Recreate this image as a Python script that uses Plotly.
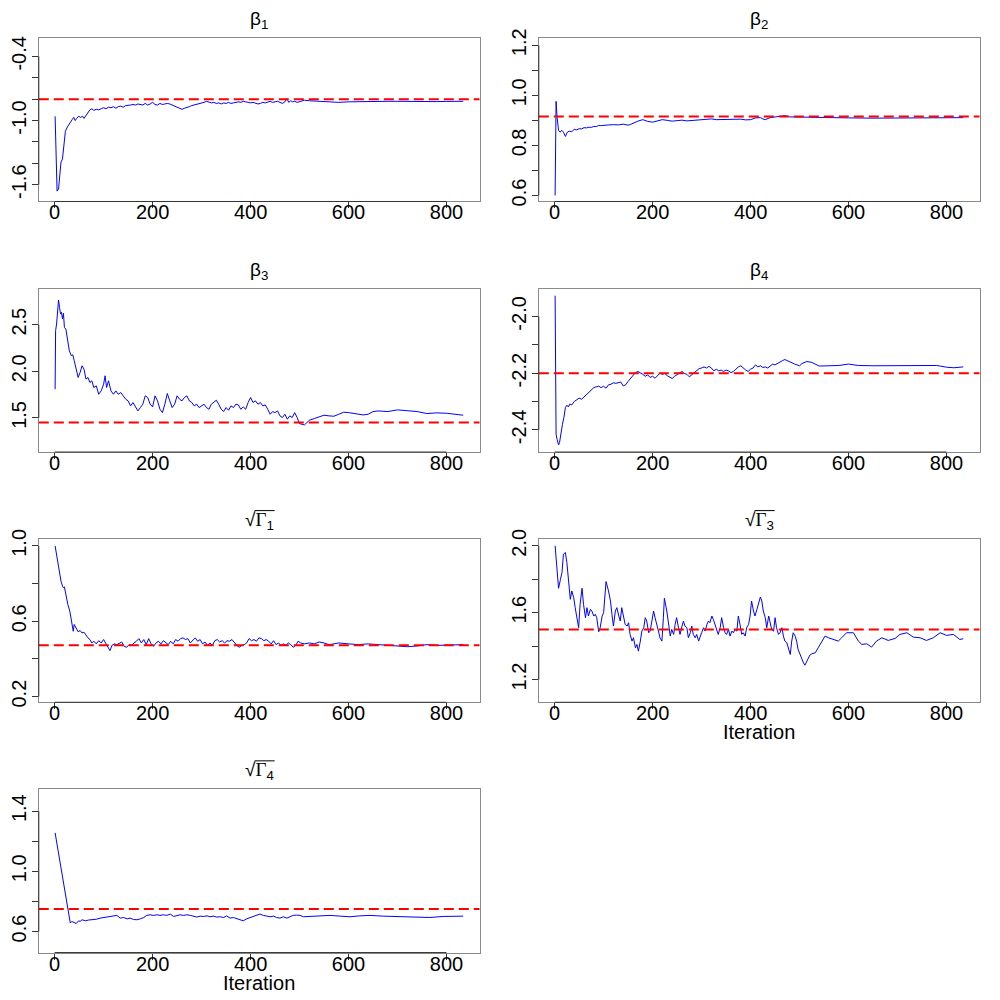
import plotly.graph_objects as go

# MCMC trace values: (iteration, value)
beta1 = [(1,-0.96),(3,-1.45),(5,-1.66),(8,-1.64),(11,-1.45),(13,-1.39),(16,-1.36),(19,-1.20),(22,-1.10),(26,-1.06),
         (30,-1.03),(33,-1.00),(36,-0.99),(39,-0.97),(42,-1.00),(45,-0.98),(49,-0.96),(53,-0.97),(57,-0.96),(60,-0.98),
         (64,-0.95),(68,-0.93),(72,-0.90),(76,-0.89),(80,-0.905),(85,-0.895),(90,-0.90),(95,-0.89),(100,-0.88),(105,-0.89),
         (110,-0.875),(115,-0.88),(120,-0.87),(125,-0.885),(130,-0.87),(135,-0.865),(140,-0.875),(145,-0.86),(150,-0.86),
         (155,-0.855),(160,-0.85),(165,-0.855),(170,-0.845),(175,-0.85),(180,-0.855),(185,-0.84),(190,-0.855),(195,-0.845),
         (200,-0.83),(205,-0.85),(210,-0.855),(215,-0.84),(220,-0.85),(225,-0.845),(230,-0.84),(235,-0.845),(240,-0.855),
         (245,-0.865),(250,-0.875),(255,-0.885),(260,-0.895),(265,-0.885),(270,-0.88),(275,-0.87),(280,-0.86),(285,-0.855),
         (290,-0.85),(295,-0.84),(300,-0.835),(305,-0.83),(310,-0.82),(315,-0.825),(320,-0.835),(325,-0.83),(330,-0.84),
         (335,-0.835),(340,-0.845),(345,-0.835),(350,-0.84),(355,-0.83),(360,-0.84),(365,-0.835),(370,-0.83),(375,-0.825),
         (380,-0.83),(385,-0.82),(390,-0.825),(395,-0.83),(400,-0.835),(405,-0.83),(410,-0.84),(415,-0.845),(420,-0.84),
         (425,-0.83),(430,-0.835),(435,-0.825),(440,-0.82),(445,-0.83),(450,-0.825),(455,-0.82),(460,-0.83),(465,-0.84),
         (470,-0.825),(474,-0.795),(478,-0.83),(482,-0.815),(486,-0.825),(490,-0.82),(495,-0.83),(500,-0.825),(505,-0.82),
         (510,-0.81),(520,-0.815),(530,-0.818),(545,-0.825),(560,-0.83),(580,-0.83),(600,-0.825),(620,-0.822),(640,-0.82),
         (660,-0.82),(680,-0.82),(700,-0.82),(720,-0.822),(740,-0.824),(760,-0.826),(780,-0.823),(800,-0.821),(820,-0.822),
         (834,-0.82)]

beta2 = [(1,0.60),(3,0.976),(5,0.913),(8,0.86),(11,0.853),(15,0.86),(18,0.853),(22,0.836),(26,0.853),(30,0.857),
         (35,0.855),(40,0.864),(45,0.862),(50,0.867),(55,0.866),(60,0.871),(65,0.870),(70,0.873),(75,0.872),(80,0.876),
         (85,0.875),(90,0.88),(95,0.879),(100,0.881),(110,0.882),(120,0.883),(130,0.882),(140,0.885),(150,0.881),
         (155,0.884),(160,0.889),(170,0.897),(180,0.903),(190,0.896),(200,0.893),(210,0.897),(220,0.903),(230,0.900),
         (240,0.897),(250,0.899),(260,0.901),(270,0.898),(280,0.899),(290,0.901),(300,0.903),(310,0.902),(320,0.906),
         (330,0.903),(340,0.903),(350,0.905),(360,0.906),(370,0.903),(380,0.905),(390,0.902),(400,0.903),(410,0.910),
         (420,0.911),(425,0.906),(430,0.903),(440,0.911),(450,0.913),(460,0.916),(470,0.919),(480,0.914),(500,0.913),
         (520,0.911),(560,0.911),(600,0.910),(650,0.909),(700,0.910),(750,0.911),(800,0.911),(834,0.911)]

beta3 = [(1,1.808),(2,2.435),(4,2.507),(6,2.615),(8,2.765),(10,2.686),(12,2.615),(14,2.633),(16,2.561),(18,2.622),
         (20,2.471),(23,2.453),(26,2.328),(30,2.220),(34,2.167),(37,2.177),(40,2.113),(44,2.023),(48,1.934),(52,1.987),
         (56,2.059),(60,2.023),(64,1.916),(68,1.934),(72,1.880),(76,1.898),(80,1.826),(85,1.844),(90,1.754),(95,1.790),
         (100,1.862),(103,1.952),(106,1.826),(110,1.898),(115,1.790),(120,1.754),(125,1.790),(130,1.754),(135,1.772),
         (140,1.737),(145,1.701),(150,1.683),(155,1.629),(160,1.665),(165,1.611),(170,1.575),(175,1.611),(180,1.647),
         (185,1.737),(190,1.719),(195,1.647),(200,1.618),(205,1.737),(210,1.683),(215,1.593),(220,1.557),(225,1.647),
         (230,1.762),(235,1.683),(240,1.611),(245,1.647),(250,1.737),(255,1.701),(260,1.683),(265,1.719),(270,1.737),
         (275,1.683),(280,1.665),(285,1.629),(290,1.647),(295,1.611),(300,1.629),(305,1.647),(310,1.611),(315,1.593),
         (320,1.647),(325,1.665),(330,1.690),(335,1.647),(340,1.593),(345,1.568),(350,1.611),(355,1.582),(360,1.629),
         (365,1.611),(370,1.647),(375,1.640),(380,1.593),(385,1.618),(390,1.593),(395,1.665),(400,1.719),(405,1.665),
         (410,1.683),(415,1.647),(420,1.665),(425,1.629),(430,1.640),(435,1.593),(440,1.539),(445,1.568),(450,1.557),
         (455,1.575),(460,1.522),(465,1.504),(470,1.539),(475,1.486),(480,1.522),(485,1.504),(490,1.557),(495,1.504),
         (500,1.439),(505,1.432),(510,1.425),(515,1.450),(520,1.475),(530,1.493),(540,1.511),(550,1.529),(560,1.522),
         (570,1.518),(580,1.539),(590,1.561),(600,1.557),(610,1.547),(620,1.539),(630,1.532),(640,1.539),(650,1.568),
         (660,1.575),(680,1.568),(700,1.586),(720,1.575),(740,1.568),(760,1.547),(780,1.554),(800,1.550),(815,1.539),
         (834,1.529)]

beta4 = [(1,-1.927),(3,-2.415),(5,-2.433),(8,-2.453),(10,-2.445),(13,-2.404),(16,-2.380),(19,-2.356),(22,-2.321),
         (25,-2.313),(28,-2.319),(31,-2.309),(35,-2.312),(40,-2.300),(45,-2.293),(50,-2.288),(55,-2.292),(60,-2.284),
         (65,-2.274),(70,-2.265),(75,-2.260),(80,-2.251),(85,-2.248),(90,-2.246),(95,-2.251),(100,-2.246),(105,-2.253),
         (110,-2.241),(115,-2.239),(120,-2.234),(125,-2.236),(130,-2.233),(135,-2.231),(140,-2.245),(145,-2.241),
         (150,-2.229),(155,-2.218),(160,-2.207),(165,-2.198),(170,-2.194),(175,-2.198),(180,-2.204),(185,-2.211),
         (190,-2.206),(195,-2.215),(200,-2.211),(205,-2.218),(210,-2.208),(215,-2.200),(220,-2.204),(225,-2.201),
         (230,-2.209),(235,-2.213),(240,-2.219),(245,-2.211),(250,-2.206),(255,-2.199),(260,-2.194),(265,-2.201),
         (270,-2.204),(275,-2.213),(280,-2.206),(285,-2.201),(290,-2.192),(295,-2.184),(300,-2.182),(305,-2.178),
         (310,-2.182),(315,-2.176),(320,-2.182),(325,-2.192),(330,-2.186),(335,-2.192),(340,-2.189),(345,-2.194),
         (350,-2.189),(355,-2.192),(360,-2.198),(365,-2.194),(370,-2.186),(375,-2.178),(380,-2.174),(385,-2.182),
         (390,-2.189),(395,-2.194),(400,-2.186),(405,-2.182),(410,-2.171),(415,-2.178),(420,-2.174),(425,-2.180),
         (430,-2.178),(435,-2.182),(440,-2.175),(445,-2.168),(450,-2.171),(455,-2.165),(460,-2.161),(465,-2.156),
         (470,-2.152),(475,-2.156),(480,-2.162),(490,-2.168),(500,-2.174),(505,-2.166),(515,-2.159),(525,-2.162),
         (540,-2.175),(560,-2.174),(580,-2.173),(600,-2.168),(620,-2.173),(650,-2.174),(700,-2.173),(750,-2.171),
         (780,-2.173),(800,-2.179),(815,-2.181),(834,-2.178)]

gamma1 = [(1,1.0),(5,0.929),(10,0.867),(13,0.813),(16,0.787),(18,0.778),(20,0.782),(23,0.734),(27,0.689),(31,0.654),
          (35,0.600),(38,0.547),(40,0.583),(44,0.565),(48,0.544),(52,0.551),(56,0.538),(60,0.542),(64,0.526),(68,0.512),
          (72,0.503),(76,0.485),(80,0.494),(85,0.480),(90,0.497),(95,0.485),(100,0.503),(105,0.480),(110,0.462),
          (113,0.444),(117,0.472),(122,0.480),(127,0.476),(132,0.485),(137,0.490),(142,0.467),(147,0.462),(152,0.476),
          (157,0.472),(162,0.485),(167,0.494),(172,0.508),(177,0.485),(182,0.503),(187,0.476),(192,0.508),(197,0.480),
          (202,0.467),(207,0.485),(212,0.494),(217,0.480),(222,0.497),(227,0.485),(232,0.476),(237,0.494),(242,0.480),
          (247,0.503),(252,0.494),(257,0.508),(262,0.512),(267,0.503),(272,0.508),(277,0.485),(282,0.497),(287,0.512),
          (292,0.494),(297,0.503),(302,0.480),(307,0.490),(312,0.472),(317,0.485),(322,0.472),(327,0.497),(332,0.503),
          (337,0.490),(342,0.497),(347,0.485),(352,0.497),(357,0.494),(362,0.503),(367,0.485),(372,0.472),(377,0.462),
          (382,0.472),(387,0.476),(392,0.485),(397,0.508),(402,0.497),(407,0.503),(412,0.494),(417,0.512),(422,0.508),
          (427,0.497),(432,0.503),(437,0.494),(442,0.480),(447,0.497),(452,0.476),(457,0.485),(462,0.472),(467,0.480),
          (472,0.472),(477,0.485),(482,0.476),(487,0.462),(492,0.472),(497,0.494),(502,0.485),(510,0.480),(520,0.485),
          (530,0.480),(540,0.490),(550,0.485),(560,0.476),(570,0.480),(580,0.485),(600,0.480),(620,0.476),(640,0.480),
          (660,0.476),(680,0.472),(700,0.472),(720,0.465),(740,0.469),(760,0.476),(780,0.472),(800,0.472),(820,0.472),
          (834,0.476)]

gamma3 = [(1,2.0),(8,1.746),(12,1.80),(15,1.84),(18,1.95),(22,1.96),(25,1.90),(29,1.79),(32,1.68),(35,1.73),(39,1.69),
          (42,1.63),(46,1.56),(49,1.51),(52,1.65),(56,1.746),(59,1.65),(63,1.57),(66,1.63),(69,1.58),(73,1.62),(76,1.61),
          (80,1.58),(83,1.59),(86,1.57),(90,1.486),(93,1.51),(97,1.58),(100,1.60),(103,1.72),(105,1.786),(110,1.73),
          (114,1.67),(117,1.59),(120,1.52),(124,1.61),(127,1.63),(131,1.58),(134,1.55),(137,1.63),(141,1.57),(144,1.53),
          (148,1.52),(151,1.54),(154,1.47),(158,1.43),(161,1.45),(165,1.39),(168,1.41),(171,1.37),(175,1.43),(178,1.49),
          (182,1.51),(185,1.57),(188,1.55),(192,1.48),(195,1.49),(199,1.57),(202,1.61),(205,1.57),(209,1.53),(212,1.49),
          (215,1.45),(219,1.43),(222,1.57),(224,1.686),(229,1.61),(232,1.53),(236,1.46),(239,1.50),(243,1.47),(246,1.53),
          (249,1.57),(253,1.51),(256,1.47),(260,1.52),(263,1.55),(266,1.52),(270,1.51),(273,1.45),(277,1.48),(280,1.52),
          (283,1.47),(287,1.45),(290,1.47),(294,1.43),(297,1.46),(300,1.48),(304,1.51),(307,1.49),(311,1.53),(314,1.55),
          (317,1.54),(321,1.58),(324,1.56),(328,1.52),(331,1.49),(334,1.47),(338,1.51),(341,1.57),(345,1.51),(348,1.48),
          (351,1.47),(355,1.50),(358,1.46),(362,1.49),(365,1.48),(368,1.50),(372,1.49),(375,1.58),(379,1.52),(382,1.47),
          (385,1.48),(389,1.46),(392,1.51),(396,1.53),(399,1.58),(402,1.67),(406,1.61),(409,1.58),(413,1.62),(416,1.65),
          (420,1.694),(423,1.67),(426,1.61),(430,1.57),(433,1.51),(437,1.58),(440,1.53),(443,1.50),(447,1.49),(450,1.57),
          (453,1.51),(457,1.47),(460,1.48),(464,1.51),(467,1.46),(470,1.43),(474,1.42),(477,1.39),(481,1.35),(484,1.43),
          (487,1.48),(491,1.46),(494,1.43),(497,1.38),(501,1.35),(504,1.32),(508,1.30),(511,1.286),(515,1.31),(518,1.33),
          (521,1.346),(525,1.354),(532,1.36),(538,1.39),(546,1.43),(552,1.46),(559,1.45),(569,1.44),(579,1.43),(586,1.45),
          (596,1.48),(610,1.48),(620,1.43),(627,1.41),(637,1.414),(647,1.394),(657,1.43),(668,1.45),(681,1.434),
          (695,1.446),(705,1.47),(719,1.48),(732,1.454),(746,1.45),(759,1.434),(773,1.45),(787,1.48),(800,1.464),
          (814,1.47),(827,1.44),(834,1.444)]

gamma4 = [(1,1.256),(32,0.656),(35,0.667),(39,0.662),(44,0.653),(49,0.671),(52,0.667),(56,0.678),(63,0.671),(69,0.676),
          (76,0.678),(86,0.682),(93,0.689),(100,0.693),(107,0.698),(114,0.702),(120,0.704),(127,0.707),(134,0.689),
          (141,0.693),(148,0.684),(154,0.689),(161,0.680),(168,0.678),(175,0.684),(182,0.693),(188,0.707),(195,0.711),
          (202,0.707),(209,0.711),(215,0.707),(222,0.711),(229,0.707),(236,0.716),(243,0.700),(249,0.704),(256,0.711),
          (263,0.707),(270,0.711),(277,0.707),(283,0.700),(290,0.696),(297,0.702),(304,0.700),(311,0.704),(317,0.698),
          (324,0.702),(331,0.696),(338,0.698),(345,0.693),(351,0.704),(358,0.689),(365,0.693),(372,0.684),(379,0.676),
          (385,0.671),(392,0.684),(399,0.693),(406,0.700),(413,0.707),(419,0.716),(426,0.707),(433,0.700),(440,0.698),
          (447,0.702),(453,0.693),(460,0.689),(467,0.698),(474,0.689),(481,0.698),(487,0.707),(494,0.709),(501,0.707),
          (508,0.698),(521,0.700),(542,0.702),(562,0.707),(583,0.702),(603,0.698),(623,0.704),(644,0.707),(671,0.702),
          (705,0.700),(739,0.698),(766,0.693),(793,0.700),(834,0.702)]

# true values (red dashed lines)
true_values = [-0.8, 0.916, 1.45, -2.2, 0.4725, 1.5, 0.75]

titles = ["β<sub>1</sub>", "β<sub>2</sub>", "β<sub>3</sub>", "β<sub>4</sub>",
          "√<span style='font-family:Liberation Serif'>Γ</span><sub>1</sub>",
          "√<span style='font-family:Liberation Serif'>Γ</span><sub>3</sub>",
          "√<span style='font-family:Liberation Serif'>Γ</span><sub>4</sub>"]

iter_ticks = [0, 200, 400, 600, 800]
y_ticks = [
    [-1.6, -1.4, -1.2, -1.0, -0.8, -0.6, -0.4],
    [0.6, 0.7, 0.8, 0.9, 1.0, 1.1, 1.2],
    [1.5, 2.0, 2.5],
    [-2.4, -2.3, -2.2, -2.1, -2.0],
    [0.2, 0.4, 0.6, 0.8, 1.0],
    [1.2, 1.4, 1.6, 1.8, 2.0],
    [0.6, 0.8, 1.0, 1.2, 1.4],
]
y_labels = [
    ["-1.6", "", "", "-1.0", "", "", "-0.4"],
    ["0.6", "", "0.8", "", "1.0", "", "1.2"],
    ["1.5", "2.0", "2.5"],
    ["-2.4", "", "-2.2", "", "-2.0"],
    ["0.2", "", "0.6", "", "1.0"],
    ["1.2", "", "1.6", "", "2.0"],
    ["0.6", "", "1.0", "", "1.4"],
]
y_ranges = [[-1.757, -0.231], [0.576, 1.228], [1.134, 2.884], [-2.478, -1.903],
            [0.170, 1.036], [1.064, 2.04], [0.46, 1.545]]
x_range = [-32.3, 867.3]

series = [beta1, beta2, beta3, beta4, gamma1, gamma3, gamma4]

# the page shows the plot shifted / squeezed a little; compensate so that
# panel positions land where the reference has them
OFF_X = 8.5
OFF_Y = 17.7
SCALE_Y = 0.984


def px_x(p):
    return (p - OFF_X) / 1000.0


def px_y(p):
    return 1 - ((p - OFF_Y) / SCALE_Y) / 1000.0


# panel geometry in page pixels
col_px = [(39.3, 480.0), (539.3, 980.0)]
row_top_px = [38.0, 288.3, 538.3, 788.3]
box_h_px = 163.0

fig = go.Figure()
shapes = []
annotations = []
layout = {}

for i, data in enumerate(series):
    n = i + 1
    sfx = "" if n == 1 else str(n)
    r, c = divmod(i, 2)
    xd = (px_x(col_px[c][0]), px_x(col_px[c][1]))
    top = row_top_px[r]
    yd = (px_y(top + box_h_px), px_y(top))
    xs = [d[0] for d in data]
    ys = [d[1] for d in data]
    fig.add_trace(go.Scatter(x=xs, y=ys, mode="lines", line=dict(color="#0000ff", width=1),
                             xaxis="x" + sfx, yaxis="y" + sfx, showlegend=False, hoverinfo="skip"))

    axis_common = dict(showgrid=False, zeroline=False, showline=True, mirror=True,
                       linecolor="#8a8a8a", linewidth=1, ticks="outside", ticklen=6,
                       tickcolor="#333333", tickfont=dict(size=20, color="black"))
    layout["xaxis" + sfx] = dict(axis_common, domain=xd, range=x_range, anchor="y" + sfx,
                                 tickmode="array", tickvals=iter_ticks,
                                 ticktext=[str(t) for t in iter_ticks], ticklabelstandoff=-13)
    layout["yaxis" + sfx] = dict(axis_common, domain=yd, range=y_ranges[i], anchor="x" + sfx,
                                 tickmode="array", tickvals=y_ticks[i], ticktext=y_labels[i],
                                 tickangle=-90, ticklabelstandoff=-2)

    # red dashed reference line
    shapes.append(dict(type="line", xref="x" + sfx + " domain", x0=0, x1=1,
                       yref="y" + sfx, y0=true_values[i], y1=true_values[i],
                       line=dict(color="#ff0000", width=2, dash="10px,5px")))
    # R style axis lines between first and last tick
    shapes.append(dict(type="line", xref="x" + sfx, x0=iter_ticks[0], x1=iter_ticks[-1],
                       yref="y" + sfx + " domain", y0=0, y1=0, line=dict(color="#333333", width=1)))
    shapes.append(dict(type="line", xref="x" + sfx + " domain", x0=0, x1=0,
                       yref="y" + sfx, y0=y_ticks[i][0], y1=y_ticks[i][-1],
                       line=dict(color="#333333", width=1)))

    cx_px = (col_px[c][0] + col_px[c][1]) / 2
    annotations.append(dict(text=titles[i], xref="paper", yref="paper", x=px_x(cx_px), y=px_y(top - 18),
                            xanchor="center", yanchor="middle", showarrow=False,
                            font=dict(size=19, color="black")))
    if i >= 4:
        # overline of the square root
        shapes.append(dict(type="line", xref="paper", yref="paper",
                           x0=px_x(cx_px - 4.5), x1=px_x(cx_px + 15.5),
                           y0=px_y(top - 28.5), y1=px_y(top - 28.5),
                           line=dict(color="black", width=1)))
    if i >= 5:
        annotations.append(dict(text="Iteration", xref="paper", yref="paper", x=px_x(cx_px),
                                y=px_y(top + box_h_px + 30), xanchor="center", yanchor="middle",
                                showarrow=False, font=dict(size=20, color="black")))

fig.update_layout(
    width=1000, height=1000, autosize=False,
    margin=dict(l=0, r=0, t=0, b=0),
    paper_bgcolor="white", plot_bgcolor="white",
    font=dict(family="Liberation Sans, Arial, sans-serif", color="black"),
    shapes=shapes, annotations=annotations,
    **layout
)

fig.write_html("out.html")
